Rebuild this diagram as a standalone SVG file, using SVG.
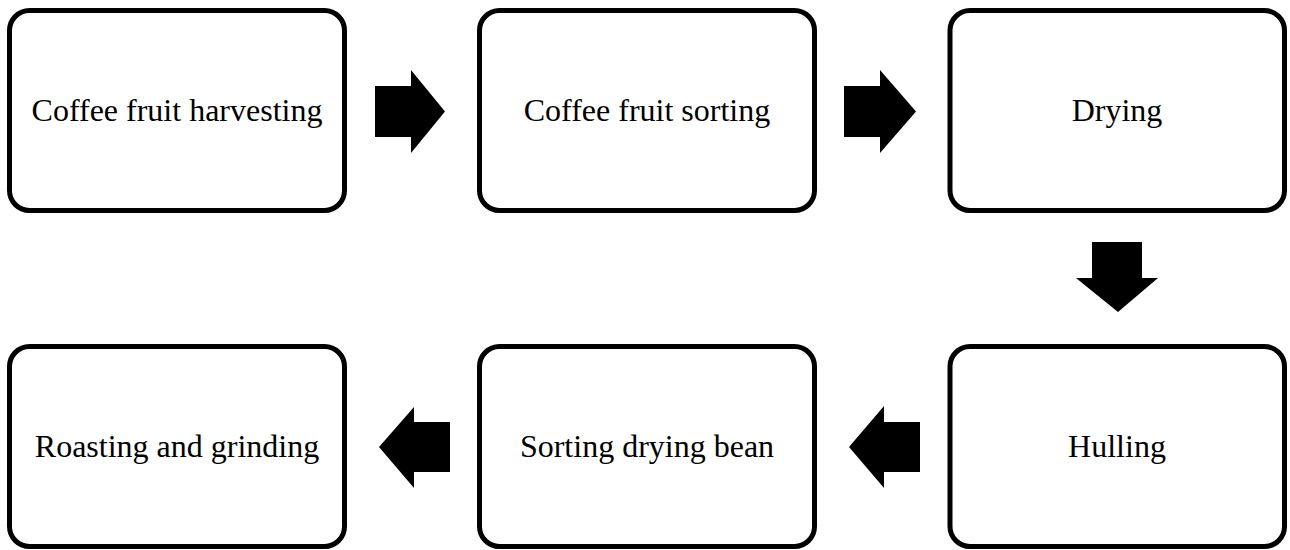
<svg xmlns="http://www.w3.org/2000/svg" width="1290" height="550" viewBox="0 0 1290 550">
<style>
.box{fill:#fff;stroke:#000;stroke-width:5}
.lbl{font-family:"Liberation Serif","Times New Roman",serif;font-size:32px;fill:#000;text-anchor:middle}
.arr{fill:#000}
</style>
<rect width="1290" height="550" fill="#fff"/>
<g id="n1"><rect class="box" x="9.5" y="10.5" width="335" height="200" rx="20"/><text class="lbl" x="177" y="121">Coffee fruit harvesting</text></g>
<g id="n2"><rect class="box" x="479.5" y="10.5" width="335" height="200" rx="20"/><text class="lbl" x="647" y="121">Coffee fruit sorting</text></g>
<g id="n3"><rect class="box" x="950" y="10.5" width="334.5" height="200" rx="20"/><text class="lbl" x="1117" y="121">Drying</text></g>
<g id="n4"><rect class="box" x="950" y="346.5" width="334.5" height="200" rx="20"/><text class="lbl" x="1117" y="457">Hulling</text></g>
<g id="n5"><rect class="box" x="479.5" y="346.5" width="335" height="200" rx="20"/><text class="lbl" x="647" y="457">Sorting drying bean</text></g>
<g id="n6"><rect class="box" x="9.5" y="346.5" width="335" height="200" rx="20"/><text class="lbl" x="177" y="457">Roasting and grinding</text></g>
<g id="connectors">
<polygon class="arr" points="375,86 411,86 411,70 445,111.5 411,153 411,137 375,137"/>
<polygon class="arr" points="844,86 880,86 880,70 916,111.5 880,153 880,137 844,137"/>
<polygon class="arr" points="1092,242 1142,242 1142,278 1158,278 1118,312 1076,278 1092,278"/>
<polygon class="arr" points="920,422 884,422 884,406 849,447 884,488 884,472 920,472"/>
<polygon class="arr" points="450,422 414,422 414,407 379,447 414,488 414,472 450,472"/>
</g>
</svg>
